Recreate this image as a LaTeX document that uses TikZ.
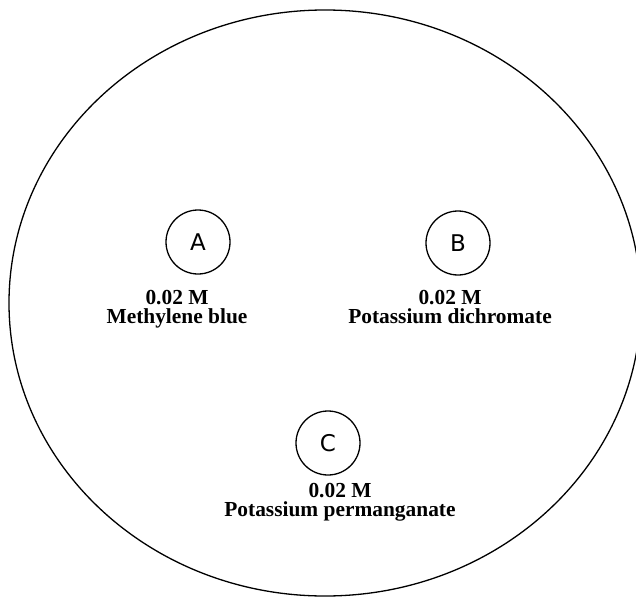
\documentclass[tikz,border=0pt]{standalone}
\usepackage{fontspec}
\setmainfont{Liberation Serif}
\newfontfamily\letterfont{DejaVu Sans}
\begin{document}
\begin{tikzpicture}[x=1pt,y=-1pt,
  well/.style={draw,line width=1.3pt,circle,minimum size=64pt,inner sep=0pt,font=\letterfont\fontsize{23}{23}\selectfont},
  lbl/.style={anchor=north,align=center,inner sep=0pt,font=\bfseries\fontsize{21.4}{19.5}\selectfont}]
\useasboundingbox (0,0) rectangle (636,596);
\draw[line width=1.3pt] (325,303) ellipse [x radius=316, y radius=293];
\node[well] (A) at (198,242) {A};
\node[well] (B) at (458,243) {B};
\node[well] (C) at (328,443) {C};
\node[lbl] (la) at (177,289.8) {0.02 M\\Methylene blue};
\node[lbl] (lb) at (450,289.8) {0.02 M\\Potassium dichromate};
\node[lbl] (lc) at (340,482.8) {0.02 M\\Potassium permanganate};
\end{tikzpicture}
\end{document}
